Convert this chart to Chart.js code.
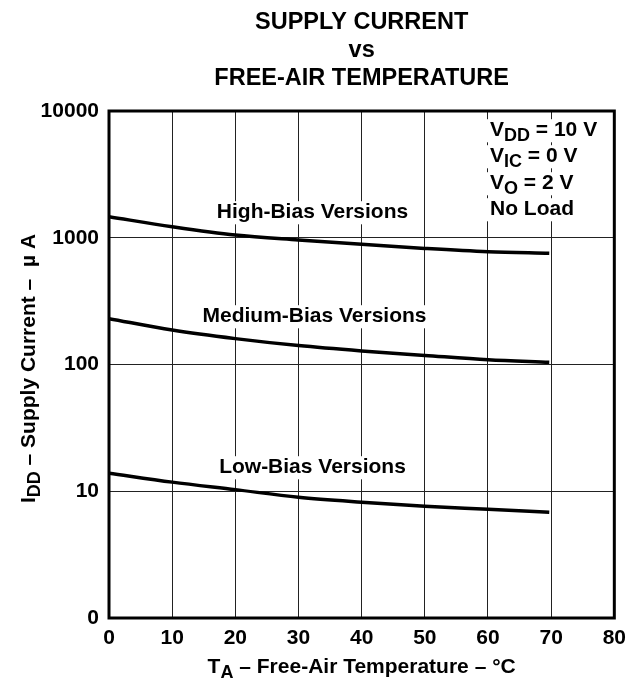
<!DOCTYPE html>
<html>
<head>
<meta charset="utf-8">
<script src="https://cdn.jsdelivr.net/npm/chart.js@4.4.1/dist/chart.umd.min.js"></script>
<style>
  html, body { margin: 0; padding: 0; background: #fff; }
  #wrap { width: 634px; height: 681px; }
</style>
</head>
<body>
<div id="wrap"><canvas id="supplyChart"></canvas></div>
<script>
// temperatures (°C) where the curves were read
const temps = [0, 10, 20, 30, 40, 50, 60, 69.7];

// supply current, µA
const highBias = [1465, 1222, 1050, 960, 887, 824, 776, 753];
const mediumBias = [230, 187, 160, 141, 128, 118, 109, 104];
const lowBias = [13.9, 11.8, 10.3, 8.97, 8.2, 7.62, 7.21, 6.82];

const yTicks = [1, 10, 100, 1000, 10000];
const xTicks = [0, 10, 20, 30, 40, 50, 60, 70, 80];

const titleLines = ['SUPPLY CURRENT', 'vs', 'FREE-AIR TEMPERATURE'];
const seriesLabels = ['High-Bias Versions', 'Medium-Bias Versions', 'Low-Bias Versions'];

const FONT = 'Arial, "Liberation Sans", Helvetica, sans-serif';
const TXT = 21;

function toPoints(values) {
  return temps.map((t, i) => ({ x: t, y: values[i] }));
}

function partFont(p, size) {
  return `bold ${p.sub ? Math.round(size * 0.85) : size}px ${FONT}`;
}

function measureParts(ctx, parts, size) {
  let width = 0;
  parts.forEach(p => {
    ctx.font = partFont(p, size);
    width += ctx.measureText(p.t).width;
  });
  return width;
}

// draw text made of plain and subscript parts
function richText(ctx, parts, x, y, size, align) {
  const width = measureParts(ctx, parts, size);
  let cx = align === 'center' ? x - width / 2 : x;
  parts.forEach(p => {
    ctx.font = partFont(p, size);
    ctx.fillText(p.t, cx, p.sub ? y + 5 : y);
    cx += ctx.measureText(p.t).width;
  });
}

function labelWithBox(ctx, parts, x, y, size, align) {
  ctx.save();
  ctx.textAlign = 'left';
  ctx.textBaseline = 'alphabetic';
  const width = measureParts(ctx, parts, size);
  const left = align === 'center' ? x - width / 2 : x;
  ctx.fillStyle = '#fff';
  ctx.fillRect(left - 3, y - size * 0.8, width + 6, size * 1.1);
  ctx.fillStyle = '#000';
  richText(ctx, parts, x, y, size, align);
  ctx.restore();
}

const textPlugin = {
  id: 'textPlugin',
  afterDatasetsDraw(chart) {
    const ctx = chart.ctx;
    const area = chart.chartArea;
    const midX = (area.left + area.right) / 2;
    const midY = (area.top + area.bottom) / 2;

    // curve labels
    labelWithBox(ctx, [{ t: seriesLabels[0] }], 312.5, 218, TXT, 'center');
    labelWithBox(ctx, [{ t: seriesLabels[1] }], 314.5, 322, TXT, 'center');
    labelWithBox(ctx, [{ t: seriesLabels[2] }], 312.5, 473, TXT, 'center');

    // test conditions
    labelWithBox(ctx, [{ t: 'V' }, { t: 'DD', sub: true }, { t: ' = 10 V' }], 490, 136, TXT, 'left');
    labelWithBox(ctx, [{ t: 'V' }, { t: 'IC', sub: true }, { t: ' = 0 V' }], 490, 162, TXT, 'left');
    labelWithBox(ctx, [{ t: 'V' }, { t: 'O', sub: true }, { t: ' = 2 V' }], 490, 189, TXT, 'left');
    labelWithBox(ctx, [{ t: 'No Load' }], 490, 215, TXT, 'left');

    // frame
    ctx.save();
    ctx.strokeStyle = '#000';
    ctx.lineWidth = 3;
    ctx.strokeRect(area.left, area.top, area.right - area.left, area.bottom - area.top);
    ctx.restore();

    // title
    ctx.save();
    ctx.fillStyle = '#000';
    ctx.textAlign = 'center';
    ctx.textBaseline = 'alphabetic';
    ctx.font = `bold 23.5px ${FONT}`;
    ctx.fillText(titleLines[0], midX, 29);
    ctx.fillText(titleLines[1], midX, 57);
    ctx.fillText(titleLines[2], midX, 85);

    // x axis title
    ctx.textAlign = 'left';
    richText(ctx, [{ t: 'T' }, { t: 'A', sub: true }, { t: ' \u2013 Free-Air Temperature \u2013 \u00b0C' }], midX, 673, TXT, 'center');

    // y axis title
    ctx.translate(35, midY + 4);
    ctx.rotate(-Math.PI / 2);
    richText(ctx, [{ t: 'I' }, { t: 'DD', sub: true }, { t: ' \u2013 Supply Current \u2013  \u00b5 A' }], 0, 0, TXT, 'center');
    ctx.restore();
  }
};

const curveStyle = {
  borderColor: '#000',
  borderWidth: 3.5,
  pointRadius: 0,
  fill: false,
  cubicInterpolationMode: 'monotone'
};

new Chart(document.getElementById('supplyChart'), {
  type: 'line',
  data: {
    datasets: [
      { label: seriesLabels[0], data: toPoints(highBias), ...curveStyle },
      { label: seriesLabels[1], data: toPoints(mediumBias), ...curveStyle },
      { label: seriesLabels[2], data: toPoints(lowBias), ...curveStyle }
    ]
  },
  options: {
    responsive: true,
    maintainAspectRatio: false,
    animation: false,
    layout: {
      padding: { top: 111, right: 19, left: 0, bottom: 0 }
    },
    plugins: {
      legend: { display: false },
      title: { display: false },
      tooltip: { enabled: false }
    },
    scales: {
      x: {
        type: 'linear',
        min: 0,
        max: 80,
        afterFit: scale => { scale.height = 63; },
        afterBuildTicks: scale => { scale.ticks = xTicks.map(v => ({ value: v })); },
        grid: { color: '#222', lineWidth: 1, drawTicks: false },
        border: { display: false },
        ticks: {
          padding: 8,
          color: '#000',
          font: { family: FONT, size: TXT, weight: 'bold' },
          maxRotation: 0
        }
      },
      y: {
        type: 'logarithmic',
        min: 1,
        max: 10000,
        afterFit: scale => { scale.width = 109; },
        afterBuildTicks: scale => { scale.ticks = yTicks.map(v => ({ value: v })); },
        grid: { color: '#222', lineWidth: 1, drawTicks: false },
        border: { display: false },
        ticks: {
          padding: 10,
          color: '#000',
          font: { family: FONT, size: TXT, weight: 'bold' },
          callback: value => (value === 1 ? '0' : String(value))
        }
      }
    }
  },
  plugins: [textPlugin]
});
</script>
</body>
</html>
